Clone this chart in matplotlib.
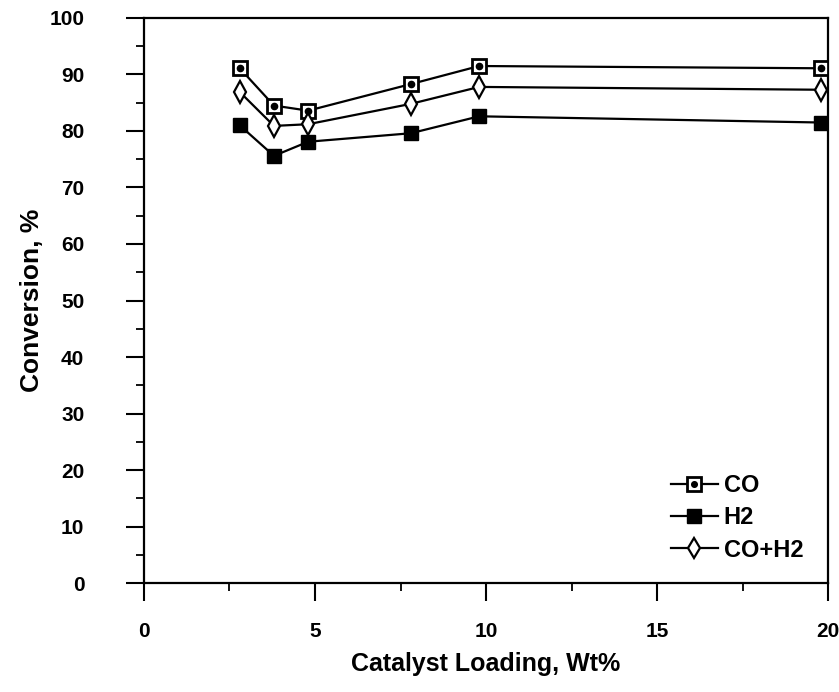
import matplotlib.pyplot as plt
from matplotlib.legend_handler import HandlerTuple
from matplotlib.ticker import MultipleLocator

plt.rcParams['font.family'] = ['Liberation Sans', 'DejaVu Sans']
plt.rcParams['font.weight'] = 'bold'

# catalyst loading (wt%) and conversions (%)
loading = [2.8, 3.8, 4.8, 7.8, 9.8, 19.8]
co = [91.1, 84.5, 83.6, 88.3, 91.5, 91.1]
h2 = [81.0, 75.6, 78.1, 79.6, 82.6, 81.5]
co_h2 = [86.9, 80.9, 81.2, 84.8, 87.8, 87.3]

fig = plt.figure(figsize=(8.39, 6.92), dpi=100)
ax = fig.add_axes([0.1716, 0.1575, 0.8154, 0.8165])

l_co, = ax.plot(loading, co, color='black', lw=1.6, marker='s', ms=10.5,
                mfc='white', mec='black', mew=2, zorder=3)
d_co, = ax.plot(loading, co, ls='none', marker='o', ms=4.5, color='black', zorder=4)
l_h2, = ax.plot(loading, h2, color='black', lw=1.6, marker='s', ms=10.5,
                mfc='black', mec='black', zorder=3)
l_mix, = ax.plot(loading, co_h2, color='black', lw=1.6, marker='d', ms=11,
                 mfc='white', mec='black', mew=1.6, zorder=3)

ax.set_xlim(0, 20)
ax.set_ylim(0, 100)
ax.xaxis.set_major_locator(MultipleLocator(5))
ax.xaxis.set_minor_locator(MultipleLocator(2.5))
ax.yaxis.set_major_locator(MultipleLocator(10))
ax.yaxis.set_minor_locator(MultipleLocator(5))
ax.tick_params(which='major', direction='out', length=13, width=1.5, labelsize=15)
ax.tick_params(which='minor', direction='out', length=6, width=1.3)
ax.tick_params(axis='x', pad=15)
ax.tick_params(axis='y', pad=30)
for lab in ax.get_xticklabels() + ax.get_yticklabels():
    lab.set_fontweight('bold')
for sp in ax.spines.values():
    sp.set_linewidth(1.6)

ax.set_xlabel('Catalyst Loading, Wt%', fontsize=18, fontweight='bold', labelpad=8)
ax.set_ylabel('Conversion, %', fontsize=19, fontweight='bold', labelpad=4)

leg = ax.legend([(l_co, d_co), l_h2, l_mix], ['CO', 'H2', 'CO+H2'],
                handler_map={tuple: HandlerTuple(ndivide=1)},
                loc='lower right', bbox_to_anchor=(0.995, 0.0), frameon=False,
                fontsize=17, handlelength=2.0, handletextpad=0.25,
                labelspacing=0.4, markerscale=0.9)
for t in leg.get_texts():
    t.set_fontweight('bold')

fig.savefig('out.png', dpi=100)
